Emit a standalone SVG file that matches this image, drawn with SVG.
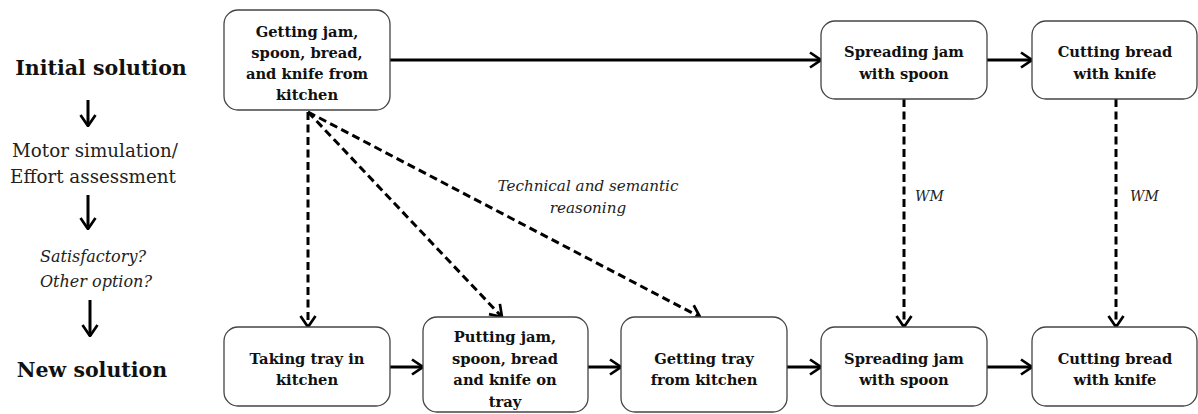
<svg xmlns="http://www.w3.org/2000/svg" width="1198" height="414" viewBox="0 0 1198 414">
<style>
.box{fill:#fff;stroke:#444;stroke-width:1.3}
.nt{font-family:"DejaVu Serif","Liberation Serif",serif;font-weight:bold;font-size:14.7px;fill:#111;text-anchor:middle}
.sb{font-family:"DejaVu Serif","Liberation Serif",serif;font-weight:bold;font-size:20.5px;fill:#111;text-anchor:middle}
.sr{font-family:"DejaVu Serif","Liberation Serif",serif;font-size:18.3px;fill:#222;text-anchor:middle}
.si{font-family:"DejaVu Serif","Liberation Serif",serif;font-style:italic;font-size:16px;fill:#222;text-anchor:middle}
.li{font-family:"DejaVu Serif","Liberation Serif",serif;font-style:italic;font-size:14px;fill:#222}
.lc{font-size:15.2px;text-anchor:middle}
.solid{fill:none;stroke:#000;stroke-width:3;marker-end:url(#ah)}
.dash{fill:none;stroke:#000;stroke-width:3;stroke-dasharray:8 4.5;marker-end:url(#ah)}
</style>
<defs>
<marker id="ah" viewBox="0 0 13 18" refX="12" refY="9" markerWidth="13" markerHeight="18" markerUnits="userSpaceOnUse" orient="auto">
<path d="M1,1.5 L12,9 L1,16.5" fill="none" stroke="#000" stroke-width="2.7"/>
</marker>
</defs>
<rect width="1198" height="414" fill="#fff"/>

<g id="side-labels">
<text class="sb" x="101" y="75">Initial solution</text>
<text class="sr" x="95" y="157">Motor simulation/</text>
<text class="sr" x="93" y="183">Effort assessment</text>
<text class="si" x="93" y="262">Satisfactory?</text>
<text class="si" x="96" y="287">Other option?</text>
<text class="sb" x="92" y="377">New solution</text>
<line class="solid" x1="88" y1="100" x2="88" y2="126"/>
<line class="solid" x1="88" y1="195" x2="88" y2="229"/>
<line class="solid" x1="90" y1="300" x2="90" y2="336"/>
</g>

<g id="connectors">
<line class="solid" x1="390" y1="60" x2="821" y2="60"/>
<line class="solid" x1="987" y1="60" x2="1032" y2="60"/>
<line class="solid" x1="390" y1="367" x2="423" y2="367"/>
<line class="solid" x1="588" y1="367" x2="621" y2="367"/>
<line class="solid" x1="787" y1="367" x2="821" y2="367"/>
<line class="solid" x1="987" y1="367" x2="1032" y2="367"/>
<line class="dash" x1="308" y1="112" x2="308" y2="327"/>
<line class="dash" x1="308" y1="112" x2="502" y2="317"/>
<line class="dash" x1="308" y1="112" x2="700" y2="317"/>
<line class="dash" x1="904" y1="99" x2="904" y2="327"/>
<line class="dash" x1="1116" y1="99" x2="1116" y2="327"/>
<text class="li lc" x="588" y="191">Technical and semantic</text>
<text class="li lc" x="588" y="213">reasoning</text>
<text class="li" x="915" y="201">WM</text>
<text class="li" x="1130" y="201">WM</text>
</g>

<g id="init-get">
<rect class="box" x="224" y="10" width="166" height="100" rx="14"/>
<text class="nt" x="307" y="37">Getting jam,</text>
<text class="nt" x="307" y="58">spoon, bread,</text>
<text class="nt" x="307" y="79">and knife from</text>
<text class="nt" x="307" y="100">kitchen</text>
</g>
<g id="init-spread">
<rect class="box" x="821" y="21" width="166" height="78" rx="14"/>
<text class="nt" x="904" y="57">Spreading jam</text>
<text class="nt" x="904" y="79">with spoon</text>
</g>
<g id="init-cut">
<rect class="box" x="1032" y="21" width="165" height="78" rx="14"/>
<text class="nt" x="1115" y="57">Cutting bread</text>
<text class="nt" x="1115" y="79">with knife</text>
</g>

<g id="new-take">
<rect class="box" x="224" y="327" width="166" height="79" rx="14"/>
<text class="nt" x="307" y="364">Taking tray in</text>
<text class="nt" x="307" y="385">kitchen</text>
</g>
<g id="new-put">
<rect class="box" x="423" y="317" width="165" height="95" rx="14"/>
<text class="nt" x="505" y="342">Putting jam,</text>
<text class="nt" x="505" y="364">spoon, bread</text>
<text class="nt" x="505" y="385">and knife on</text>
<text class="nt" x="505" y="407">tray</text>
</g>
<g id="new-get">
<rect class="box" x="621" y="317" width="166" height="95" rx="14"/>
<text class="nt" x="704" y="364">Getting tray</text>
<text class="nt" x="704" y="385">from kitchen</text>
</g>
<g id="new-spread">
<rect class="box" x="821" y="327" width="166" height="79" rx="14"/>
<text class="nt" x="904" y="364">Spreading jam</text>
<text class="nt" x="904" y="385">with spoon</text>
</g>
<g id="new-cut">
<rect class="box" x="1032" y="327" width="165" height="79" rx="14"/>
<text class="nt" x="1115" y="364">Cutting bread</text>
<text class="nt" x="1115" y="385">with knife</text>
</g>
</svg>
